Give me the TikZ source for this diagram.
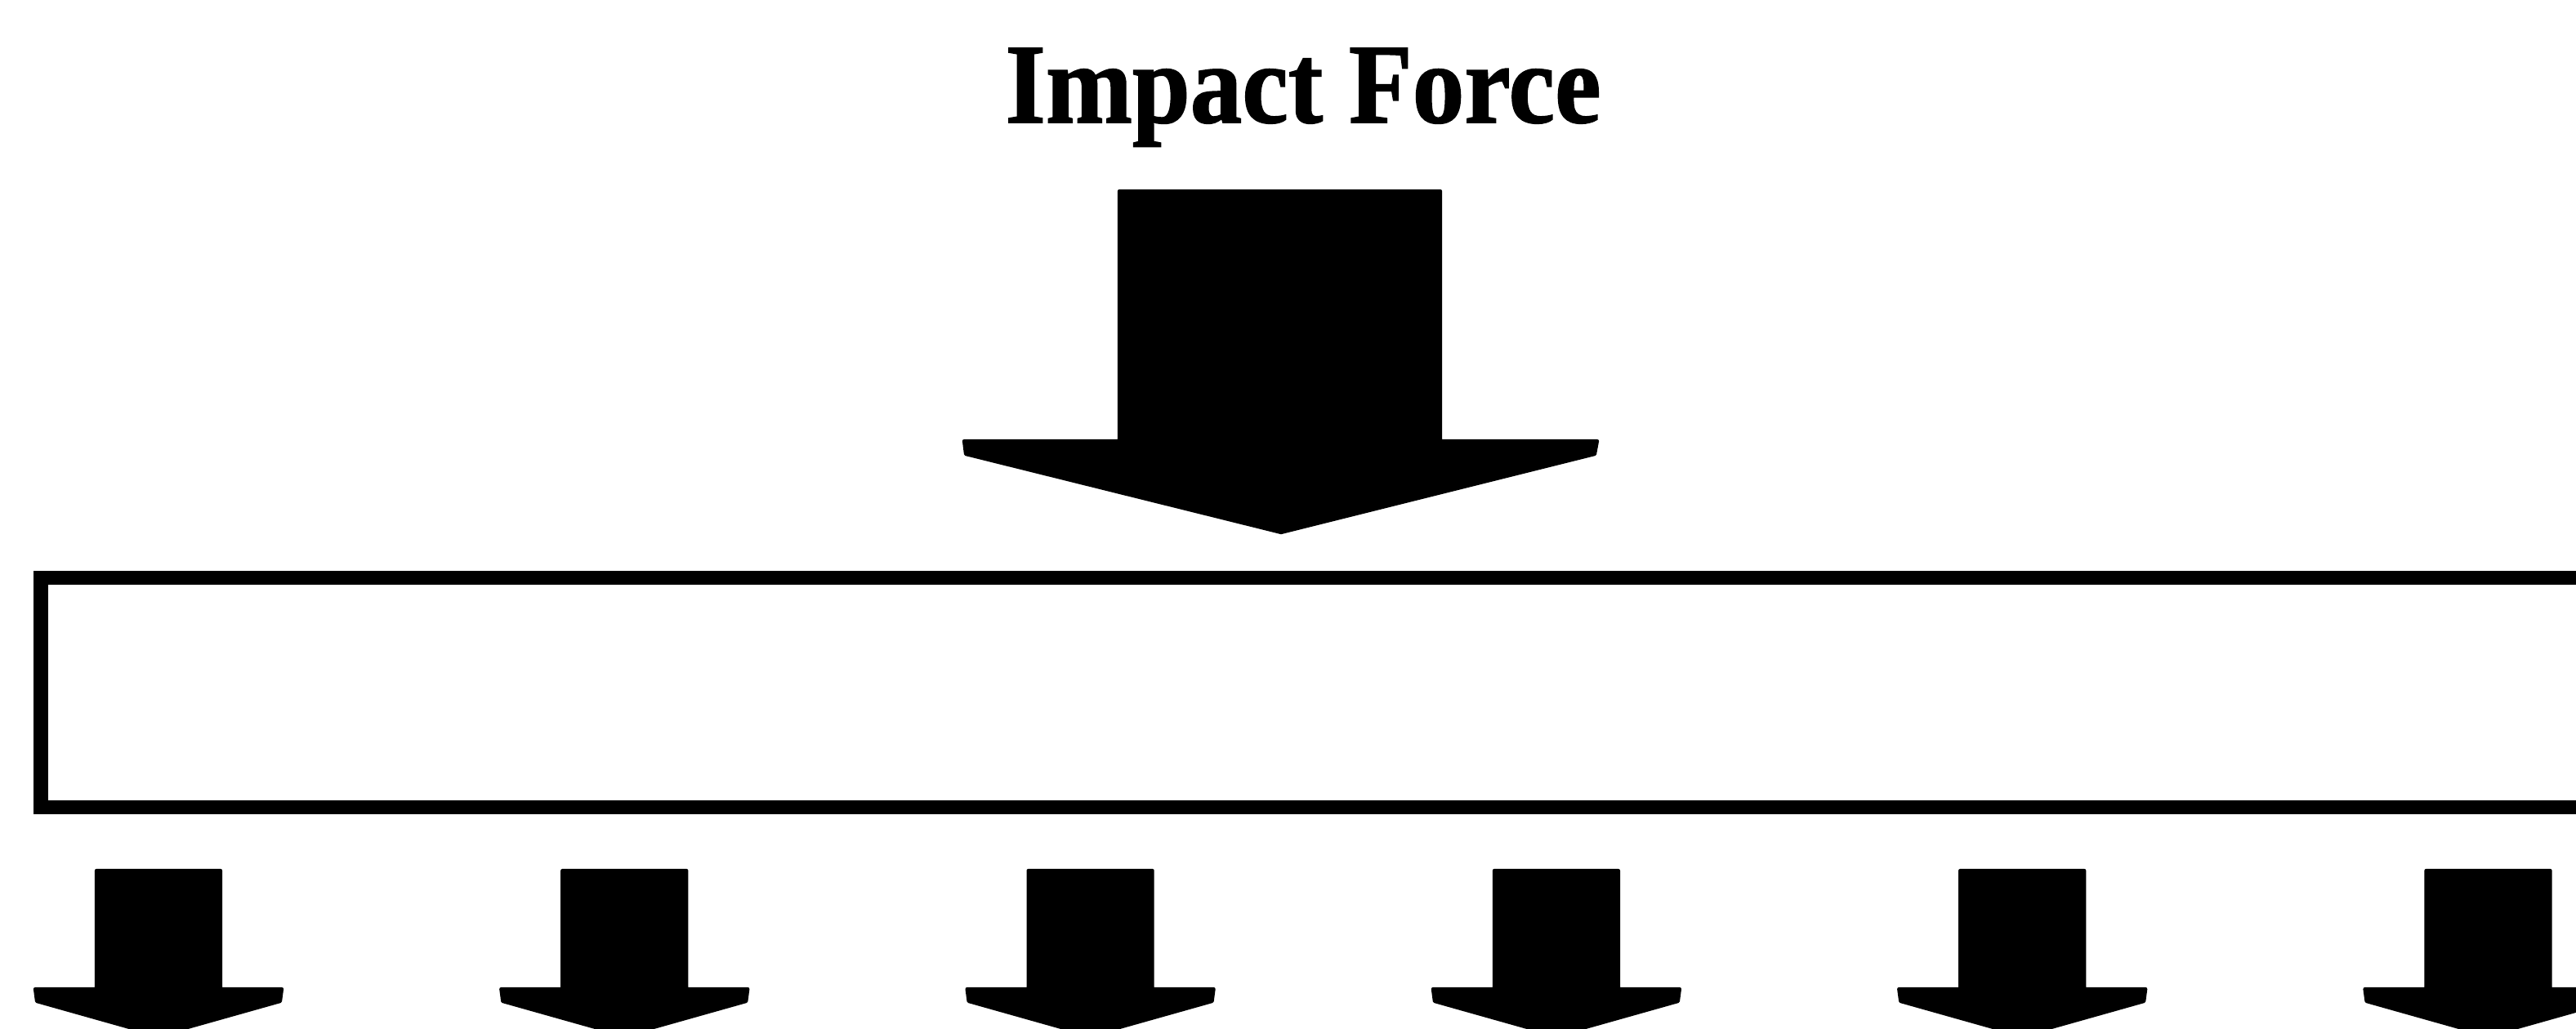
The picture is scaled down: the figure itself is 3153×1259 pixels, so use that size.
\documentclass[tikz,border=0pt]{standalone}
\usepackage{fontspec}
\setmainfont{Liberation Serif}
\newfontfamily\titlefont[FakeBold=1.2]{Liberation Serif Bold}
\begin{document}
\begin{tikzpicture}[x=0.01cm,y=-0.01cm,
  arrowshape/.style={fill=black, draw=black, line width=1.2pt, line join=round},
  plate/.style={draw=black, line width=0.17cm},
  label/.style={anchor=base, inner sep=0pt, font=\titlefont\fontsize{39.5}{46}\selectfont}]
\useasboundingbox (0,0) rectangle (3153,1259);
\clip (0,0) rectangle (3153,1259);
\node[label] (title) at (1595,150) {\scalebox{0.916}[1]{Impact Force}};
% big impact arrow
\coordinate (tip) at (1568,652);
\draw[arrowshape] (1370,234) -- (1763,234) -- (1763,540) -- (1955,540) -- (1952,556)
  -- (tip) -- (1182,556) -- (1180,540) -- (1370,540) -- cycle;
% plate
\draw[plate] (50,707) rectangle (3400,988);
% reaction arrows
\foreach \i in {0,...,5}{
  \pgfmathsetmacro\cx{194+570.3*\i}
  \draw[arrowshape] ({\cx-76},1066) -- ({\cx+76},1066) -- ({\cx+76},1211) -- ({\cx+151},1211)
    -- ({\cx+149},1226) -- (\cx,1268) -- ({\cx-149},1226) -- ({\cx-151},1211)
    -- ({\cx-76},1211) -- cycle;
}
\end{tikzpicture}
\end{document}
